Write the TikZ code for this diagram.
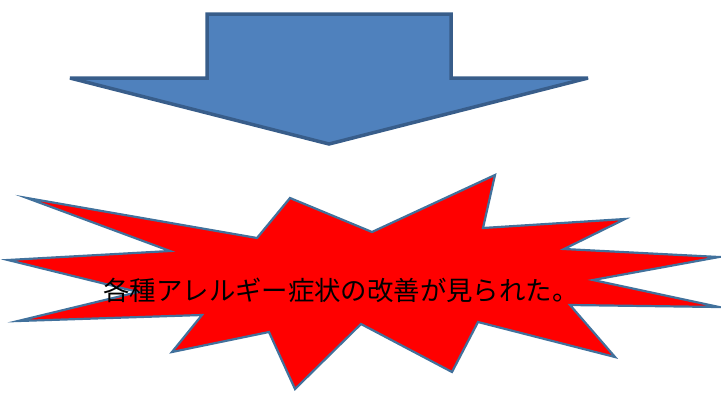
\documentclass[tikz,border=0pt]{standalone}
\usepackage{fontspec}
\newfontfamily\cjk{Noto Sans CJK JP}
\definecolor{arrowfill}{HTML}{4F81BD}
\definecolor{arrowline}{HTML}{385D8A}
\definecolor{starline}{HTML}{41719C}
\tikzset{
  arrowshape/.style={fill=arrowfill, draw=arrowline, line width=3.5pt, line join=miter, miter limit=3},
  starshape/.style={fill=red, draw=starline, line width=2.2pt, line join=miter, miter limit=20},
  msg/.style={font=\cjk\fontsize{26.4pt}{30pt}\selectfont, inner sep=0pt}
}
\begin{document}
\begin{tikzpicture}[x=1pt,y=-1pt]
\useasboundingbox (0,0) rectangle (721,392);
\draw[arrowshape] (207,14) -- (451,14) -- (451,78) -- (588,78) -- (329,144) -- (70,78) -- (207,78) -- cycle;
\draw[starshape] (27,198) -- (257,238) -- (290,198) -- (372,232) -- (495,175) -- (483,228)
  -- (625,219) -- (564,249) -- (719,257) -- (593,280) -- (719,307) -- (570,305)
  -- (615,357) -- (478,322) -- (452,372) -- (361,324) -- (295,389) -- (269,332)
  -- (172,352) -- (202,315) -- (18,321) -- (138,292) -- (8,260) -- (170,251) -- cycle;
\node[msg] (text) at (341,290) {各種アレルギー症状の改善が見られた。};
\end{tikzpicture}
\end{document}
